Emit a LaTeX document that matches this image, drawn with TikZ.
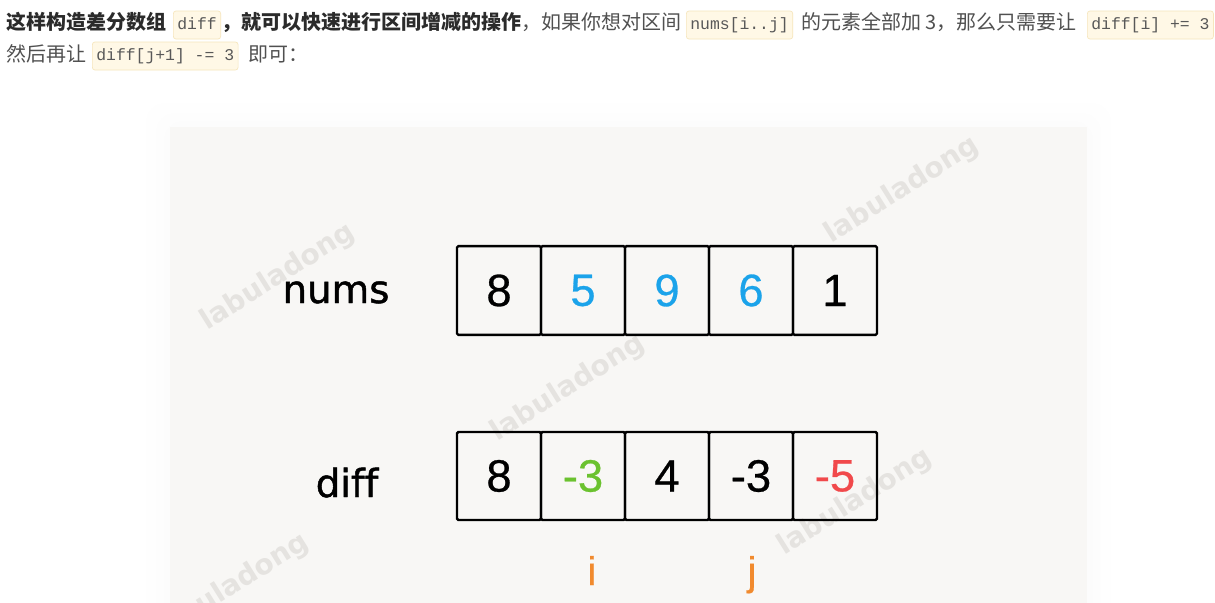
\documentclass[tikz,border=0pt]{standalone}
\usepackage{fontspec}
\setmainfont{Liberation Sans}[FakeBold=0.6]
\newfontfamily\cjk{Noto Sans CJK SC}
\newfontfamily\codefont{Liberation Mono}
\newfontfamily\labelfont{DejaVu Sans}[Ligatures=NoCommon,FakeBold=1.2]
\newfontfamily\wmfont{DejaVu Sans}[Ligatures=NoCommon]
\usepackage{tikz}
\usetikzlibrary{positioning}
\definecolor{textdark}{HTML}{2B2B2B}
\definecolor{textgray}{HTML}{505050}
\definecolor{codebg}{HTML}{FFF8E6}
\definecolor{codeline}{HTML}{F6E6BC}
\definecolor{codetext}{HTML}{585858}
\definecolor{cardbg}{HTML}{F8F7F5}
\definecolor{wmark}{HTML}{E5E3E0}
\definecolor{cellblue}{HTML}{1BA3EA}
\definecolor{cellgreen}{HTML}{6BC22F}
\definecolor{cellred}{HTML}{F1494B}
\definecolor{idxorange}{HTML}{F18A2E}
\tikzset{
  para/.style={anchor=base west,inner sep=0pt,font=\cjk\fontsize{15}{18}\selectfont,text=textgray},
  parabold/.style={para,font=\cjk\bfseries\fontsize{15}{18}\selectfont,text=textdark},
  code/.style={anchor=west,draw=codeline,fill=codebg,rounded corners=2pt,line width=.5pt,inner xsep=3pt,inner ysep=0pt,
    text height=9pt,text depth=2.5pt,minimum height=21pt,font=\codefont\fontsize{12.3}{14}\selectfont,text=codetext},
  cell/.style={draw=black,line width=1.8pt,rounded corners=1pt,minimum width=63pt,minimum height=66.5pt,
    inner sep=0pt,outer sep=0pt,font=\fontsize{34}{36}\selectfont},
  arrlabel/.style={anchor=base,inner sep=0pt,font=\labelfont\fontsize{29}{32}\selectfont},
  watermark/.style={inner sep=0pt,rotate=32,text=wmark,font=\wmfont\bfseries\fontsize{21}{24}\selectfont},
  idx/.style={anchor=base,inner sep=0pt,text=idxorange,font=\fontsize{30}{32}\selectfont},
  cardshadow/.style={fill=black,opacity=.005,rounded corners=14pt}
}
\begin{document}
\begin{tikzpicture}[x=.75pt,y=-.75pt]
  \useasboundingbox (0,0) rectangle (1215,603);
  \fill[white] (0,0) rectangle (1215,603);
  % text above the figure
  \node[parabold] (t1) at (6,30) {这样构造差分数组};
  \node[code] (c1) at (173,25) {diff};
  \node[parabold] (t2) at (221,30) {，就可以快速进行区间增减的操作};
  \node[para] (t3) at (521,30) {，如果你想对区间};
  \node[code] (c2) at (686,25) {nums[i..j]};
  \node[para] (t4) at (801,30) {的元素全部加 3，那么只需要让};
  \node[code] (c3) at (1087,25) {diff[i] += 3};
  \node[para] (t5) at (6,61) {然后再让};
  \node[code] (c4) at (92,56) {diff[j+1] -= 3};
  \node[para] (t6) at (248,61) {即可：};
  % card
  \fill[cardshadow] (146,103) rectangle (1111,640);
  \fill[cardshadow] (156,113) rectangle (1101,640);
  \fill[cardshadow] (164,121) rectangle (1093,640);
  \fill[cardbg] (170,127) rectangle (1087,640);
  \begin{scope}
    \clip (170,127) rectangle (1087,603);
    \node[watermark] (w1) at (278,277) {labuladong};
    \node[watermark] (w2) at (902,190) {labuladong};
    \node[watermark] (w3) at (568,388) {labuladong};
    \node[watermark] (w4) at (855,502) {labuladong};
    \node[watermark] (w5) at (232,587) {labuladong};
  \end{scope}
  % nums
  \node[arrlabel] (numslabel) at (336,303) {nums};
  \node[cell] (n0) at (499,290.5) {8};
  \node[cell,right=0pt of n0,text=cellblue] (n1) {5};
  \node[cell,right=0pt of n1,text=cellblue] (n2) {9};
  \node[cell,right=0pt of n2,text=cellblue] (n3) {6};
  \node[cell,right=0pt of n3] (n4) {1};
  % diff
  \node[arrlabel] (difflabel) at (347,497) {diff};
  \node[cell,minimum height=66pt] (d0) at (499,476) {8};
  \node[cell,minimum height=66pt,right=0pt of d0,text=cellgreen] (d1) {-3};
  \node[cell,minimum height=66pt,right=0pt of d1] (d2) {4};
  \node[cell,minimum height=66pt,right=0pt of d2] (d3) {-3};
  \node[cell,minimum height=66pt,right=0pt of d3,text=cellred] (d4) {-5};
  \node[idx] (i) at (592,585) {i};
  \node[idx] (j) at (752,585) {j};
\end{tikzpicture}
\end{document}
